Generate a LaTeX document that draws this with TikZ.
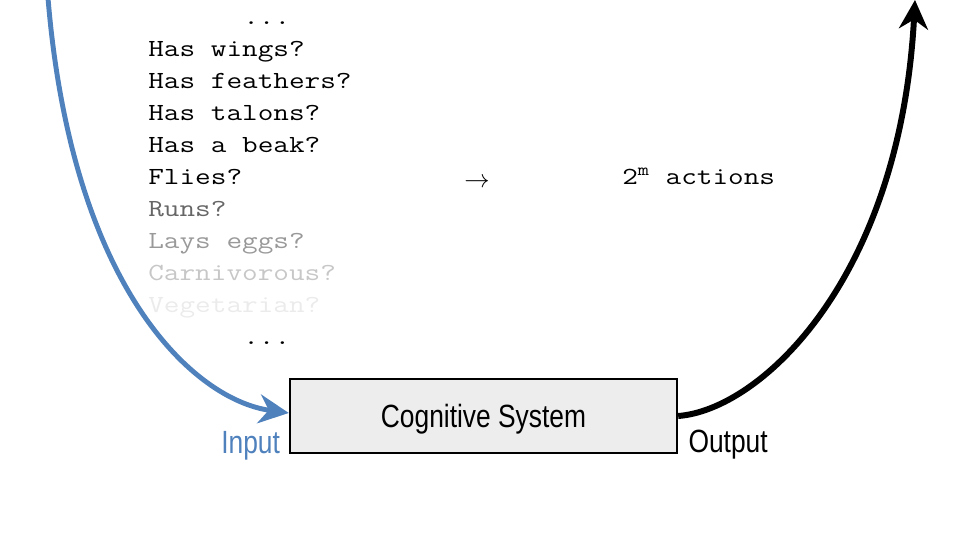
\documentclass[tikz,border=0pt]{standalone}
\usepackage{fontspec}
\newfontfamily\qfont[FakeStretch=1.234]{Latin Modern Mono}
\newfontfamily\narrowfont[FakeStretch=0.82]{Liberation Sans}
\usetikzlibrary{arrows.meta}
\definecolor{inblue}{HTML}{4F81BD}
\begin{document}
\begin{tikzpicture}[x=0.02cm, y=-0.02cm]
	\useasboundingbox (0,0) rectangle (960,540);
	\begin{scope} [every node/.style={anchor=base west, inner sep=0pt, font=\qfont\fontsize{14}{18}\selectfont}]
		\node (d1) at (243,25){...};
		\node (q1) at (148,57){Has wings?};
		\node (q2) at (148,89){Has feathers?};
		\node (q3) at (148,121){Has talons?};
		\node (q4) at (148,153){Has a beak?};
		\node (q5) at (148,185){Flies?};
		\node[black!60] (q6) at (148,217){Runs?};
		\node[black!40] (q7) at (148,249){Lays eggs?};
		\node[black!22] (q8) at (148,281){Carnivorous?};
		\node[black!8] (q9) at (148,313){Vegetarian?};
		\node (d2) at (243,345){...};
		\node (act) at (622,185){2\textsuperscript{m} actions};
	\end{scope}
	\node[inner sep=0pt, font=\fontsize{15}{18}\selectfont] (to) at (477,183){$\rightarrow$};
	\node[draw, line width=1.4pt, fill=black!7, minimum width=7.74cm, minimum height=1.48cm, text depth=0pt,
		font=\narrowfont\fontsize{18.3}{22}\selectfont] (sys) at (483.5,416){Cognitive System};
	\node[inblue, anchor=base east, inner sep=0pt, font=\narrowfont\fontsize{18.3}{22}\selectfont]
		(in) at ([xshift=-0.17cm, yshift=0.02cm]sys.south west){Input};
	\node[anchor=base west, inner sep=0pt, font=\narrowfont\fontsize{18.3}{22}\selectfont]
		(out) at ([xshift=0.2cm, yshift=0.04cm]sys.south east){Output};
	\coordinate (src) at (48,-2);
	\coordinate (dst) at (915,0);
	\draw[inblue, line width=2.8pt, -{Stealth[length=0.6cm, width=0.58cm]}]
		(src) .. controls (72,290) and (195,400) .. ([yshift=0.06cm]sys.west);
	\draw[black, line width=3.4pt, -{Stealth[length=0.58cm, width=0.58cm]}]
		(sys.east) .. controls (760,410) and (900,280) .. (dst);
\end{tikzpicture}
\end{document}
